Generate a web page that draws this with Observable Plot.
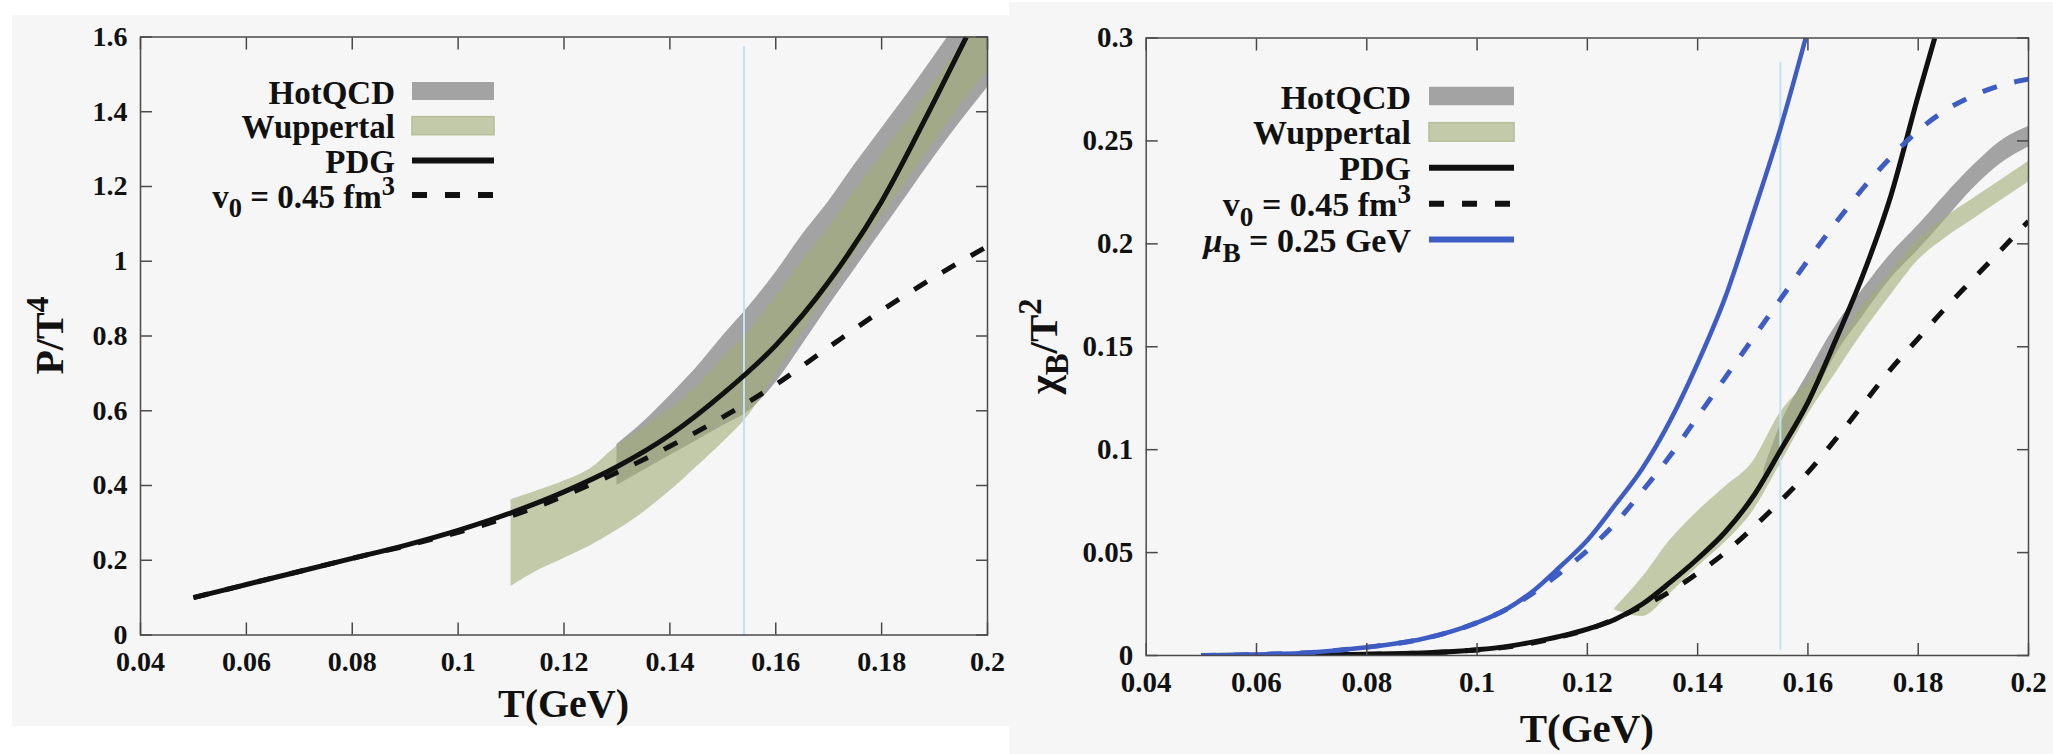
<!DOCTYPE html>
<html>
<head>
<meta charset="utf-8">
<script src="https://cdn.jsdelivr.net/npm/d3@7"></script>
<script src="https://cdn.jsdelivr.net/npm/@observablehq/plot@0.6"></script>
<style>
  html, body { margin: 0; padding: 0; background: #ffffff; }
  #page { position: relative; width: 2053px; height: 754px; overflow: hidden; background: #ffffff; }
  .panel { position: absolute; background: #f6f6f6; }
  .panel svg { display: block; }
</style>
</head>
<body>
<div id="page">
  <div class="panel" id="pressure" style="left:12px; top:15px; width:997px; height:711px;"></div>
  <div class="panel" id="suscept" style="left:1009px; top:2px; width:1044px; height:752px;"></div>
</div>
<script>
// ---------- shared axis ticks ----------
const xTicks = [0.04, 0.06, 0.08, 0.1, 0.12, 0.14, 0.16, 0.18, 0.2];
const xTickLabels = ["0.04", "0.06", "0.08", "0.1", "0.12", "0.14", "0.16", "0.18", "0.2"];
const pTicks = [0, 0.2, 0.4, 0.6, 0.8, 1, 1.2, 1.4, 1.6];
const pTickLabels = ["0", "0.2", "0.4", "0.6", "0.8", "1", "1.2", "1.4", "1.6"];
const chiTicks = [0, 0.05, 0.1, 0.15, 0.2, 0.25, 0.3];
const chiTickLabels = ["0", "0.05", "0.1", "0.15", "0.2", "0.25", "0.3"];

// ---------- pressure P/T^4 ----------
const pdgT_P = [0.05, 0.06, 0.07, 0.08, 0.09, 0.10, 0.11, 0.12, 0.13, 0.14, 0.15, 0.16, 0.17, 0.18, 0.19, 0.196];
const pdgP   = [0.100, 0.135, 0.170, 0.205, 0.240, 0.280, 0.327, 0.383, 0.450, 0.535, 0.645, 0.775, 0.945, 1.160, 1.430, 1.600];

const v0T_P = [0.05, 0.06, 0.07, 0.08, 0.09, 0.10, 0.11, 0.12, 0.13, 0.14, 0.15, 0.16, 0.17, 0.18, 0.19, 0.20];
const v0P   = [0.100, 0.135, 0.170, 0.205, 0.238, 0.275, 0.318, 0.372, 0.435, 0.505, 0.583, 0.670, 0.770, 0.868, 0.958, 1.040];

const hotT_P  = [0.130, 0.135, 0.140, 0.145, 0.150, 0.155, 0.160, 0.165, 0.170, 0.175, 0.180, 0.185, 0.190, 0.195, 0.200];
const hotLo_P = [0.400, 0.440, 0.480, 0.520, 0.560, 0.600, 0.675, 0.776, 0.880, 0.980, 1.080, 1.180, 1.280, 1.375, 1.465];
const hotHi_P = [0.510, 0.570, 0.640, 0.715, 0.800, 0.880, 0.970, 1.070, 1.160, 1.260, 1.355, 1.450, 1.550, 1.650, 1.750];

const wupT_P  = [0.110, 0.115, 0.120, 0.125, 0.130, 0.135, 0.140, 0.145, 0.150, 0.155, 0.160, 0.165, 0.170, 0.175, 0.180, 0.185, 0.190, 0.195, 0.200];
const wupLo_P = [0.130, 0.172, 0.205, 0.239, 0.280, 0.328, 0.385, 0.449, 0.515, 0.590, 0.700, 0.810, 0.920, 1.020, 1.120, 1.220, 1.320, 1.420, 1.510];
const wupHi_P = [0.362, 0.386, 0.412, 0.445, 0.505, 0.555, 0.605, 0.665, 0.740, 0.815, 0.905, 1.000, 1.090, 1.190, 1.285, 1.380, 1.480, 1.580, 1.680];

const tcLineP = [{T: 0.154, from: 0, to: 1.573}];

// ---------- baryon susceptibility chi_B/T^2 ----------
const pdgT_C = [0.05, 0.06, 0.07, 0.08, 0.09, 0.10, 0.105, 0.11, 0.115, 0.12, 0.125, 0.13, 0.135, 0.14, 0.145, 0.15, 0.155, 0.16, 0.165, 0.17, 0.175, 0.18, 0.183];
const pdgC   = [0.0000, 0.0001, 0.0003, 0.0006, 0.0012, 0.0028, 0.0042, 0.0065, 0.0093, 0.0128, 0.0175, 0.0250, 0.0355, 0.0470, 0.0600, 0.0770, 0.0995, 0.1230, 0.1530, 0.1850, 0.2230, 0.2720, 0.3000];

const v0T_C = [0.05, 0.06, 0.07, 0.08, 0.09, 0.10, 0.105, 0.11, 0.115, 0.12, 0.125, 0.13, 0.135, 0.14, 0.145, 0.15, 0.155, 0.16, 0.165, 0.17, 0.175, 0.18, 0.185, 0.19, 0.195, 0.20];
const v0C   = [0.0000, 0.0001, 0.0003, 0.0006, 0.0012, 0.0027, 0.0040, 0.0060, 0.0090, 0.0125, 0.0178, 0.0240, 0.0310, 0.0400, 0.0500, 0.0620, 0.0750, 0.0890, 0.1050, 0.1220, 0.1390, 0.1540, 0.1690, 0.1830, 0.1970, 0.2110];

const muT_C = [0.05, 0.06, 0.07, 0.08, 0.09, 0.10, 0.105, 0.11, 0.115, 0.12, 0.125, 0.13, 0.135, 0.14, 0.145, 0.15, 0.155, 0.1596];
const muC   = [0.000, 0.0005, 0.0015, 0.004, 0.008, 0.016, 0.022, 0.031, 0.043, 0.056, 0.073, 0.091, 0.114, 0.142, 0.174, 0.214, 0.256, 0.300];

const muV0T_C = [0.05, 0.06, 0.07, 0.08, 0.09, 0.10, 0.105, 0.11, 0.115, 0.12, 0.125, 0.13, 0.135, 0.14, 0.145, 0.15, 0.155, 0.16, 0.165, 0.17, 0.175, 0.18, 0.185, 0.19, 0.195, 0.20];
const muV0C   = [0.000, 0.0005, 0.0015, 0.004, 0.008, 0.016, 0.022, 0.030, 0.040, 0.051, 0.064, 0.080, 0.097, 0.116, 0.135, 0.154, 0.173, 0.192, 0.210, 0.227, 0.242, 0.255, 0.265, 0.272, 0.277, 0.280];

const hotT_C  = [0.152, 0.155, 0.160, 0.165, 0.170, 0.175, 0.180, 0.185, 0.190, 0.195, 0.200];
const hotLo_C = [0.084, 0.097, 0.120, 0.146, 0.165, 0.183, 0.197, 0.212, 0.227, 0.239, 0.247];
const hotHi_C = [0.090, 0.112, 0.137, 0.160, 0.178, 0.195, 0.209, 0.224, 0.238, 0.250, 0.257];

const wupT_C  = [0.125, 0.130, 0.135, 0.140, 0.145, 0.150, 0.155, 0.160, 0.165, 0.170, 0.175, 0.180, 0.185, 0.190, 0.195, 0.200];
const wupLo_C = [0.022, 0.019, 0.030, 0.043, 0.055, 0.070, 0.093, 0.117, 0.137, 0.157, 0.175, 0.192, 0.203, 0.212, 0.221, 0.230];
const wupHi_C = [0.023, 0.038, 0.056, 0.070, 0.082, 0.094, 0.118, 0.133, 0.150, 0.170, 0.186, 0.202, 0.213, 0.222, 0.231, 0.240];

const tcLineC = [{T: 0.155, from: 0.0025, to: 0.288}];

// ---------- styling ----------
const FONT = "'Liberation Serif', 'Times New Roman', serif";
const INK = "#111111";
const FRAME = "#4a4a4a";
const HOT_FILL = "#a3a3a3";
const WUP_FILL = "rgb(160,173,118)";
const WUP_OPACITY = 0.6;
const WUP_SWATCH = "#c2caa9";
const BLUE = "#3d5cc4";
const TC_BLUE = "#bfe2f6";
const DASH = "15,18";

const series = (T, v) => T.map((t, i) => ({T: t, v: v[i]}));
const band = (T, lo, hi) => T.map((t, i) => ({T: t, lo: lo[i], hi: hi[i]}));

function drawPanel(el, cfg) {
  const fmt = (ticks, labels) => d => labels[ticks.indexOf(d)];
  const axisInk = {stroke: FRAME, strokeWidth: 1.5, fill: INK, label: null};
  const tickOnly = {stroke: FRAME, strokeWidth: 1.5, fill: "none", label: null};
  const marks = [
    ...cfg.bands.map(b => Plot.areaY(b.data, {
      x: "T", y1: "lo", y2: "hi", fill: b.fill, fillOpacity: b.opacity, curve: "monotone-x", clip: true
    })),
    Plot.ruleX(cfg.tc, {x: "T", y1: "from", y2: "to", stroke: TC_BLUE, strokeWidth: 2}),
    ...cfg.curves.map(c => Plot.line(c.data, {
      x: "T", y: "v", stroke: c.color, strokeWidth: c.width, strokeDasharray: c.dash,
      strokeLinecap: "butt", curve: "monotone-x", clip: true
    })),
    Plot.frame({stroke: FRAME, strokeWidth: 1.5}),
    Plot.axisX({...axisInk, ticks: xTicks, anchor: "bottom", tickSize: -12, tickPadding: 28,
      tickFormat: fmt(xTicks, xTickLabels)}),
    Plot.axisX({...tickOnly, ticks: xTicks, anchor: "top", tickSize: -12}),
    Plot.axisY({...axisInk, ticks: cfg.yTicks, anchor: "left", tickSize: -12, tickPadding: 25,
      tickFormat: fmt(cfg.yTicks, cfg.yLabels)}),
    Plot.axisY({...tickOnly, ticks: cfg.yTicks, anchor: "right", tickSize: -12})
  ];
  const svg = Plot.plot({
    width: cfg.width, height: cfg.height,
    marginTop: cfg.m[0], marginRight: cfg.m[1], marginBottom: cfg.m[2], marginLeft: cfg.m[3],
    x: {domain: [0.04, 0.2]},
    y: {domain: cfg.yDomain},
    style: {background: "transparent", fontFamily: FONT, fontWeight: "bold", fontSize: cfg.tickFs + "px", color: INK},
    marks
  });
  el.appendChild(svg);

  const s = d3.select(svg);
  const fx0 = cfg.m[3], fx1 = cfg.width - cfg.m[1];
  const fy0 = cfg.m[0], fy1 = cfg.height - cfg.m[2];

  // axis titles
  s.append("text")
    .attr("x", (fx0 + fx1) / 2).attr("y", fy1 + cfg.xTitleDrop)
    .attr("text-anchor", "middle").attr("font-family", FONT).attr("font-weight", "bold")
    .attr("font-size", cfg.titleFs).attr("fill", INK)
    .text("T(GeV)");

  const yt = s.append("text")
    .attr("transform", `translate(${cfg.yTitleX},${(fy0 + fy1) / 2}) rotate(-90)`)
    .attr("text-anchor", "middle").attr("font-family", FONT).attr("font-weight", "bold")
    .attr("font-size", cfg.titleFs).attr("fill", INK);
  addParts(yt, cfg.yTitle);

  // key
  const g = s.append("g").attr("font-family", FONT).attr("font-weight", "bold")
    .attr("font-size", cfg.key.fs).attr("fill", INK);
  cfg.key.items.forEach((it, i) => {
    const cy = cfg.key.y0 + i * cfg.key.step;
    const t = g.append("text").attr("x", cfg.key.textX).attr("y", cy + 12.5).attr("text-anchor", "end");
    addParts(t, it.parts);
    if (it.fill) {
      g.append("rect")
        .attr("x", cfg.key.sx0).attr("y", cy - cfg.key.sh / 2)
        .attr("width", cfg.key.sx1 - cfg.key.sx0).attr("height", cfg.key.sh)
        .attr("fill", it.fill).attr("stroke", it.edge || "none").attr("stroke-width", 1.5);
    } else {
      g.append("line")
        .attr("x1", cfg.key.sx0).attr("x2", cfg.key.sx1).attr("y1", cy).attr("y2", cy)
        .attr("stroke", it.color).attr("stroke-width", 6)
        .attr("stroke-dasharray", it.dash || null);
    }
  });
}

// text pieces: plain, subscript ("sub") and superscript ("sup")
function addParts(textSel, parts) {
  let shift = 0;
  parts.forEach(p => {
    const ts = textSel.append("tspan").text(p.s);
    let target = 0;
    if (p.k === "sub") { target = 0.28; ts.attr("font-size", "0.8em"); }
    if (p.k === "sup") { target = -0.38; ts.attr("font-size", "0.8em"); }
    if (p.italic) ts.attr("font-style", "italic");
    const dyPx = (target - shift) * p.em;
    if (dyPx !== 0) ts.attr("dy", dyPx);
    shift = target;
  });
}

function parts(list, em) { return list.map(p => ({...p, em})); }

// ---------- left: pressure ----------
drawPanel(document.getElementById("pressure"), {
  width: 997, height: 711, m: [21.5, 22, 91.5, 128],
  yDomain: [0, 1.6], yTicks: pTicks, yLabels: pTickLabels,
  tickFs: 28, titleFs: 40, xTitleDrop: 82, yTitleX: 51,
  yTitle: parts([{s: "P/T"}, {s: "4", k: "sup"}], 40),
  tc: tcLineP,
  bands: [
    {data: band(hotT_P, hotLo_P, hotHi_P), fill: HOT_FILL, opacity: 1},
    {data: band(wupT_P, wupLo_P, wupHi_P), fill: WUP_FILL, opacity: WUP_OPACITY}
  ],
  curves: [
    {data: series(pdgT_P, pdgP), color: INK, width: 5},
    {data: series(v0T_P, v0P), color: INK, width: 5, dash: DASH}
  ],
  key: {
    fs: 33, textX: 383, sx0: 400, sx1: 482, sh: 18, y0: 76, step: 34.7,
    items: [
      {parts: parts([{s: "HotQCD"}], 33), fill: HOT_FILL},
      {parts: parts([{s: "Wuppertal"}], 33), fill: WUP_SWATCH, edge: "#b3bf95"},
      {parts: parts([{s: "PDG"}], 33), color: INK},
      {parts: parts([{s: "v"}, {s: "0", k: "sub"}, {s: " = 0.45 fm"}, {s: "3", k: "sup"}], 33), color: INK, dash: DASH}
    ]
  }
});

// ---------- right: baryon susceptibility ----------
drawPanel(document.getElementById("suscept"), {
  width: 1044, height: 752, m: [35.5, 25, 99, 136.7],
  yDomain: [0, 0.3], yTicks: chiTicks, yLabels: chiTickLabels,
  tickFs: 29, titleFs: 41, xTitleDrop: 87, yTitleX: 48,
  yTitle: parts([{s: "χ"}, {s: "B", k: "sub"}, {s: "/T"}, {s: "2", k: "sup"}], 41),
  tc: tcLineC,
  bands: [
    {data: band(hotT_C, hotLo_C, hotHi_C), fill: HOT_FILL, opacity: 1},
    {data: band(wupT_C, wupLo_C, wupHi_C), fill: WUP_FILL, opacity: WUP_OPACITY}
  ],
  curves: [
    {data: series(pdgT_C, pdgC), color: INK, width: 5},
    {data: series(v0T_C, v0C), color: INK, width: 5, dash: DASH},
    {data: series(muT_C, muC), color: BLUE, width: 4.5},
    {data: series(muV0T_C, muV0C), color: BLUE, width: 5, dash: DASH}
  ],
  key: {
    fs: 34, textX: 402, sx0: 420, sx1: 505, sh: 18.5, y0: 94, step: 35.9,
    items: [
      {parts: parts([{s: "HotQCD"}], 34), fill: HOT_FILL},
      {parts: parts([{s: "Wuppertal"}], 34), fill: WUP_SWATCH, edge: "#b3bf95"},
      {parts: parts([{s: "PDG"}], 34), color: INK},
      {parts: parts([{s: "v"}, {s: "0", k: "sub"}, {s: " = 0.45 fm"}, {s: "3", k: "sup"}], 34), color: INK, dash: DASH},
      {parts: parts([{s: "μ", italic: true}, {s: "B", k: "sub"}, {s: " = 0.25 GeV"}], 34), color: BLUE}
    ]
  }
});
</script>
</body>
</html>
